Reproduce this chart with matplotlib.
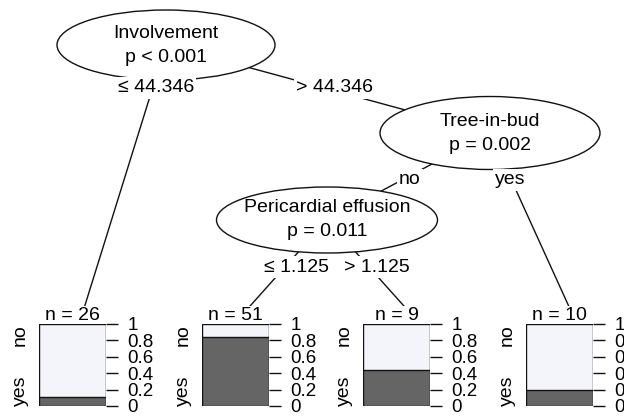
import matplotlib
matplotlib.use("Agg")
import matplotlib.pyplot as plt
from matplotlib.patches import Ellipse

plt.rcParams['font.family'] = ['Liberation Sans', 'DejaVu Sans']

# ---- data ----
node_vars = ["Involvement", "Tree-in-bud", "Pericardial effusion"]
node_pvals = ["p < 0.001", "p = 0.002", "p = 0.011"]
edge_labels = ["\u2264 44.346", "> 44.346", "no", "yes", "\u2264 1.125", "> 1.125"]
leaf_n = [26, 51, 9, 10]
leaf_yes = [0.115, 0.843, 0.444, 0.20]
classes = ["no", "yes"]
tick_vals = [0, 0.2, 0.4, 0.6, 0.8, 1]
tick_labels = ["0", "0.2", "0.4", "0.6", "0.8", "1"]

W, H = 624, 418
FS = 14
TFS = 13.5
LIGHT = "#F4F4FB"
DARK = "#656565"

fig = plt.figure(figsize=(W / 100, H / 100), dpi=100)
ax = fig.add_axes([0, 0, 1, 1])
ax.set_xlim(0, W)
ax.set_ylim(H, 0)
ax.axis("off")

# layout (pixel space)
inner = [(166, 45, 218, 70), (490, 133, 220, 73), (327, 220, 221, 66)]
bar_left = [39, 202, 363, 526]
bar_w = 67
bar_top, bar_bot = 324, 406
leaf_anchor = [(bl + bar_w / 2 + 11, 310) for bl in bar_left]

# edges: (parent center) -> child
edges = [
    (inner[0][:2], leaf_anchor[0]),
    (inner[0][:2], inner[1][:2]),
    (inner[1][:2], inner[2][:2]),
    (inner[1][:2], leaf_anchor[3]),
    (inner[2][:2], leaf_anchor[1]),
    (inner[2][:2], leaf_anchor[2]),
]
for (x0, y0), (x1, y1) in edges:
    ax.plot([x0, x1], [y0, y1], color="#111111", lw=1.0, zorder=1)

for (cx, cy, w, h), var, pv in zip(inner, node_vars, node_pvals):
    ax.add_patch(Ellipse((cx, cy), w, h, fc="white", ec="#111111", lw=1.0, zorder=2))
    ax.text(cx, cy - 12, var, ha="center", va="center", fontsize=FS, zorder=3)
    ax.text(cx, cy + 12, pv, ha="center", va="center", fontsize=FS, zorder=3)

edge_pos = [(156, 88), (335, 88), (410, 180), (510, 180), (296, 267), (377, 267)]
for (x, y), lab in zip(edge_pos, edge_labels):
    ax.text(x, y, lab, ha="center", va="center", fontsize=FS, zorder=4,
            bbox=dict(fc="white", ec="none", pad=1.5))

# leaves
for bl, n, yes in zip(bar_left, leaf_n, leaf_yes):
    ax.text(bl + bar_w / 2, 315, f"n = {n}", ha="center", va="center",
            fontsize=FS, zorder=4, bbox=dict(fc="white", ec="none", pad=0.5))
    la = fig.add_axes([bl / W, (H - bar_bot) / H, bar_w / W, (bar_bot - bar_top) / H])
    la.bar(0, 1.0, width=1.0, color=LIGHT, edgecolor="#111111", lw=1.0)
    la.bar(0, yes, width=1.0, color=DARK, edgecolor="#111111", lw=1.0)
    la.set_xlim(-0.5, 0.5)
    la.set_ylim(0, 1)
    la.set_xticks([])
    la.yaxis.tick_right()
    la.set_yticks(tick_vals)
    la.set_yticklabels(tick_labels)
    la.tick_params(axis="y", length=8.6, width=1.0, pad=7, labelsize=TFS,
                   color="#111111")
    for s in la.spines.values():
        s.set_visible(False)
    la.text(-0.28, 1.0, classes[0], rotation=90, ha="center", va="top",
            fontsize=FS, transform=la.transAxes)
    la.text(-0.28, 0.0, classes[1], rotation=90, ha="center", va="bottom",
            fontsize=FS, transform=la.transAxes)

fig.savefig("out.png", dpi=100)
